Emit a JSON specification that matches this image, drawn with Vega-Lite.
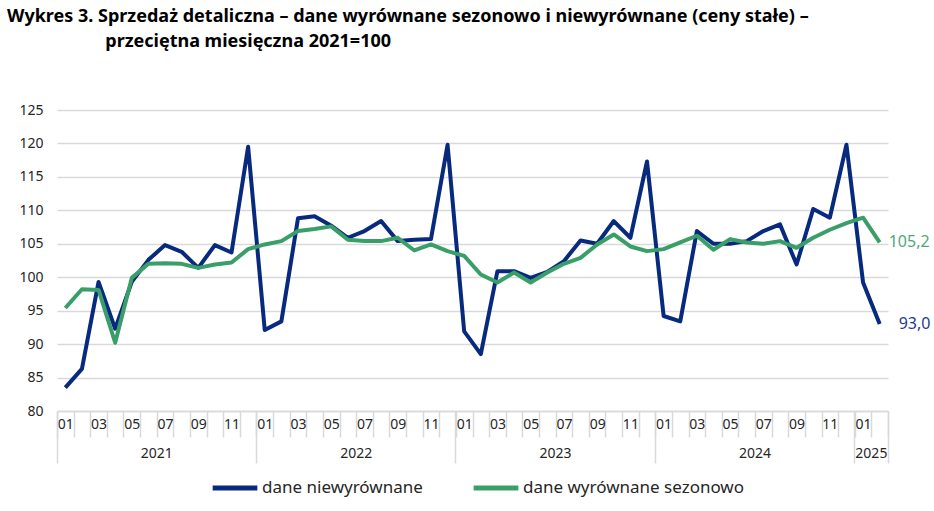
{
  "$schema": "https://vega.github.io/schema/vega-lite/v6.json",
  "width": 831,
  "height": 301,
  "autosize": "none",
  "padding": {"left": 57, "top": 110, "right": 46, "bottom": 100},
  "background": "white",
  "title": {
    "text": [
      "Wykres 3. Sprzedaż detaliczna – dane wyrównane sezonowo i niewyrównane (ceny stałe) –",
      "\u200b\u00a0\u00a0\u00a0\u00a0\u00a0\u00a0\u00a0\u00a0\u00a0\u00a0\u00a0\u00a0\u00a0\u00a0\u00a0\u00a0\u00a0\u00a0\u00a0\u00a0\u00a0przeciętna miesięczna 2021=100"
    ],
    "anchor": "start",
    "frame": "group",
    "dx": -50,
    "offset": 52,
    "font": "Noto Sans",
    "fontSize": 18,
    "fontWeight": "bold",
    "color": "#000000",
    "lineHeight": 25
  },
  "data": {
    "values": [
      {"m": "2021-01", "n": 83.5, "s": 95.4},
      {"m": "2021-02", "n": 86.3, "s": 98.2},
      {"m": "2021-03", "n": 99.3, "s": 98.1},
      {"m": "2021-04", "n": 92.3, "s": 90.2},
      {"m": "2021-05", "n": 99.3, "s": 99.9},
      {"m": "2021-06", "n": 102.6, "s": 102.0},
      {"m": "2021-07", "n": 104.8, "s": 102.1},
      {"m": "2021-08", "n": 103.8, "s": 102.0},
      {"m": "2021-09", "n": 101.4, "s": 101.4},
      {"m": "2021-10", "n": 104.8, "s": 101.9},
      {"m": "2021-11", "n": 103.7, "s": 102.2},
      {"m": "2021-12", "n": 119.5, "s": 104.2},
      {"m": "2022-01", "n": 92.1, "s": 104.9},
      {"m": "2022-02", "n": 93.4, "s": 105.4},
      {"m": "2022-03", "n": 108.8, "s": 106.9},
      {"m": "2022-04", "n": 109.1, "s": 107.2},
      {"m": "2022-05", "n": 107.7, "s": 107.6},
      {"m": "2022-06", "n": 105.9, "s": 105.6},
      {"m": "2022-07", "n": 106.9, "s": 105.4},
      {"m": "2022-08", "n": 108.4, "s": 105.4},
      {"m": "2022-09", "n": 105.4, "s": 105.9},
      {"m": "2022-10", "n": 105.6, "s": 104.0},
      {"m": "2022-11", "n": 105.7, "s": 104.9},
      {"m": "2022-12", "n": 119.8, "s": 103.9},
      {"m": "2023-01", "n": 91.9, "s": 103.2},
      {"m": "2023-02", "n": 88.5, "s": 100.4},
      {"m": "2023-03", "n": 100.9, "s": 99.2},
      {"m": "2023-04", "n": 100.9, "s": 100.7},
      {"m": "2023-05", "n": 99.9, "s": 99.2},
      {"m": "2023-06", "n": 100.8, "s": 100.7},
      {"m": "2023-07", "n": 102.4, "s": 102.0},
      {"m": "2023-08", "n": 105.5, "s": 102.9},
      {"m": "2023-09", "n": 105.0, "s": 104.9},
      {"m": "2023-10", "n": 108.4, "s": 106.4},
      {"m": "2023-11", "n": 105.9, "s": 104.6},
      {"m": "2023-12", "n": 117.3, "s": 103.9},
      {"m": "2024-01", "n": 94.2, "s": 104.2},
      {"m": "2024-02", "n": 93.4, "s": 105.2},
      {"m": "2024-03", "n": 106.9, "s": 106.2},
      {"m": "2024-04", "n": 105.0, "s": 104.1},
      {"m": "2024-05", "n": 105.0, "s": 105.7},
      {"m": "2024-06", "n": 105.4, "s": 105.2},
      {"m": "2024-07", "n": 106.9, "s": 105.0},
      {"m": "2024-08", "n": 107.9, "s": 105.4},
      {"m": "2024-09", "n": 101.9, "s": 104.4},
      {"m": "2024-10", "n": 110.2, "s": 105.9},
      {"m": "2024-11", "n": 108.9, "s": 107.1},
      {"m": "2024-12", "n": 119.8, "s": 108.1},
      {"m": "2025-01", "n": 99.2, "s": 108.9},
      {"m": "2025-02", "n": 93.0, "s": 105.2}
    ]
  },
  "resolve": {"axis": {"x": "independent"}},
  "layer": [
    {
      "mark": {"type": "line", "strokeWidth": 4, "strokeJoin": "round"},
      "encoding": {
        "x": {
          "field": "m",
          "type": "ordinal",
          "scale": {"type": "band", "paddingInner": 0, "paddingOuter": 0},
          "axis": {
            "orient": "bottom",
            "title": null,
            "labelExpr": "toNumber(substring(datum.value, 5, 7)) % 2 == 1 ? substring(datum.value, 5, 7) : ''",
            "labelAngle": 0,
            "labelOverlap": false,
            "tickBand": "extent",
            "tickSize": 26,
            "tickColor": "#d9d9d9",
            "tickWidth": 1.5,
            "domainColor": "#d9d9d9",
            "domainWidth": 1.5,
            "labelPadding": -20,
            "labelFont": "Noto Sans",
            "labelFontSize": 14,
            "labelColor": "#262626"
          }
        },
        "y": {"field": "n", "type": "quantitative", "title": null, "scale": {"domain": [80, 125], "zero": false, "nice": false}},
        "color": {"datum": "dane niewyrównane"}
      }
    },
    {
      "mark": {"type": "line", "strokeWidth": 4, "strokeJoin": "round"},
      "encoding": {
        "x": {
          "field": "m",
          "type": "ordinal",
          "axis": {
            "orient": "bottom",
            "title": null,
            "values": ["2021-06", "2022-06", "2023-06", "2024-06", "2025-01"],
            "labelExpr": "substring(datum.value, 0, 4)",
            "labelAngle": 0,
            "labelOffset": 8.3,
            "labelOverlap": false,
            "ticks": false,
            "domain": false,
            "labelPadding": 35,
            "labelFont": "Noto Sans",
            "labelFontSize": 14,
            "labelColor": "#262626"
          }
        },
        "y": {"field": "s", "type": "quantitative", "title": null},
        "color": {"datum": "dane wyrównane sezonowo"}
      }
    },
    {
      "transform": [{"filter": {"field": "m", "equal": "2025-02"}}],
      "mark": {"type": "text", "align": "left", "baseline": "middle", "dx": 19, "font": "Noto Sans", "fontSize": 16, "color": "#1f3b8c"},
      "encoding": {
        "x": {
          "field": "m",
          "type": "ordinal",
          "axis": {
            "orient": "bottom",
            "title": null,
            "values": ["2021-12", "2022-12", "2023-12", "2024-12", "2025-02"],
            "bandPosition": 1,
            "labels": false,
            "domain": false,
            "tickSize": 52,
            "tickColor": "#d9d9d9",
            "tickWidth": 1.5
          }
        },
        "y": {"field": "n", "type": "quantitative", "title": null},
        "text": {"field": "n", "type": "quantitative", "format": ".1f"}
      }
    },
    {
      "transform": [{"filter": {"field": "m", "equal": "2025-02"}}],
      "mark": {"type": "text", "align": "left", "baseline": "middle", "dx": 9, "font": "Noto Sans", "fontSize": 16, "color": "#4caa78"},
      "encoding": {
        "x": {
          "field": "m",
          "type": "ordinal",
          "axis": {
            "orient": "bottom",
            "title": null,
            "values": ["2021-01"],
            "bandPosition": 0,
            "labels": false,
            "domain": false,
            "tickSize": 52,
            "tickColor": "#d9d9d9",
            "tickWidth": 1.5
          }
        },
        "y": {"field": "s", "type": "quantitative", "title": null},
        "text": {"field": "s", "type": "quantitative", "format": ".1f"}
      }
    }
  ],
  "config": {
    "view": {"stroke": null},
    "locale": {
      "number": {"decimal": ",", "thousands": " ", "grouping": [3], "currency": ["", " zł"]}
    },
    "axisY": {
      "grid": true,
      "gridColor": "#d9d9d9",
      "gridWidth": 1.5,
      "domain": false,
      "ticks": false,
      "labelPadding": 14,
      "labelFont": "Noto Sans",
      "labelFontSize": 14,
      "labelColor": "#262626",
      "values": [80, 85, 90, 95, 100, 105, 110, 115, 120, 125]
    },
    "axisX": {"grid": false},
    "range": {"category": ["#082a7e", "#3a9e68"]},
    "legend": {
      "orient": "none",
      "legendX": 153,
      "legendY": 353,
      "direction": "horizontal",
      "title": null,
      "symbolType": "stroke",
      "symbolStrokeWidth": 5,
      "symbolSize": 2000,
      "labelFont": "Noto Sans",
      "labelFontSize": 17,
      "labelColor": "#262626",
      "labelOffset": 2,
      "columnPadding": 40,
      "labelLimit": 400
    }
  }
}
